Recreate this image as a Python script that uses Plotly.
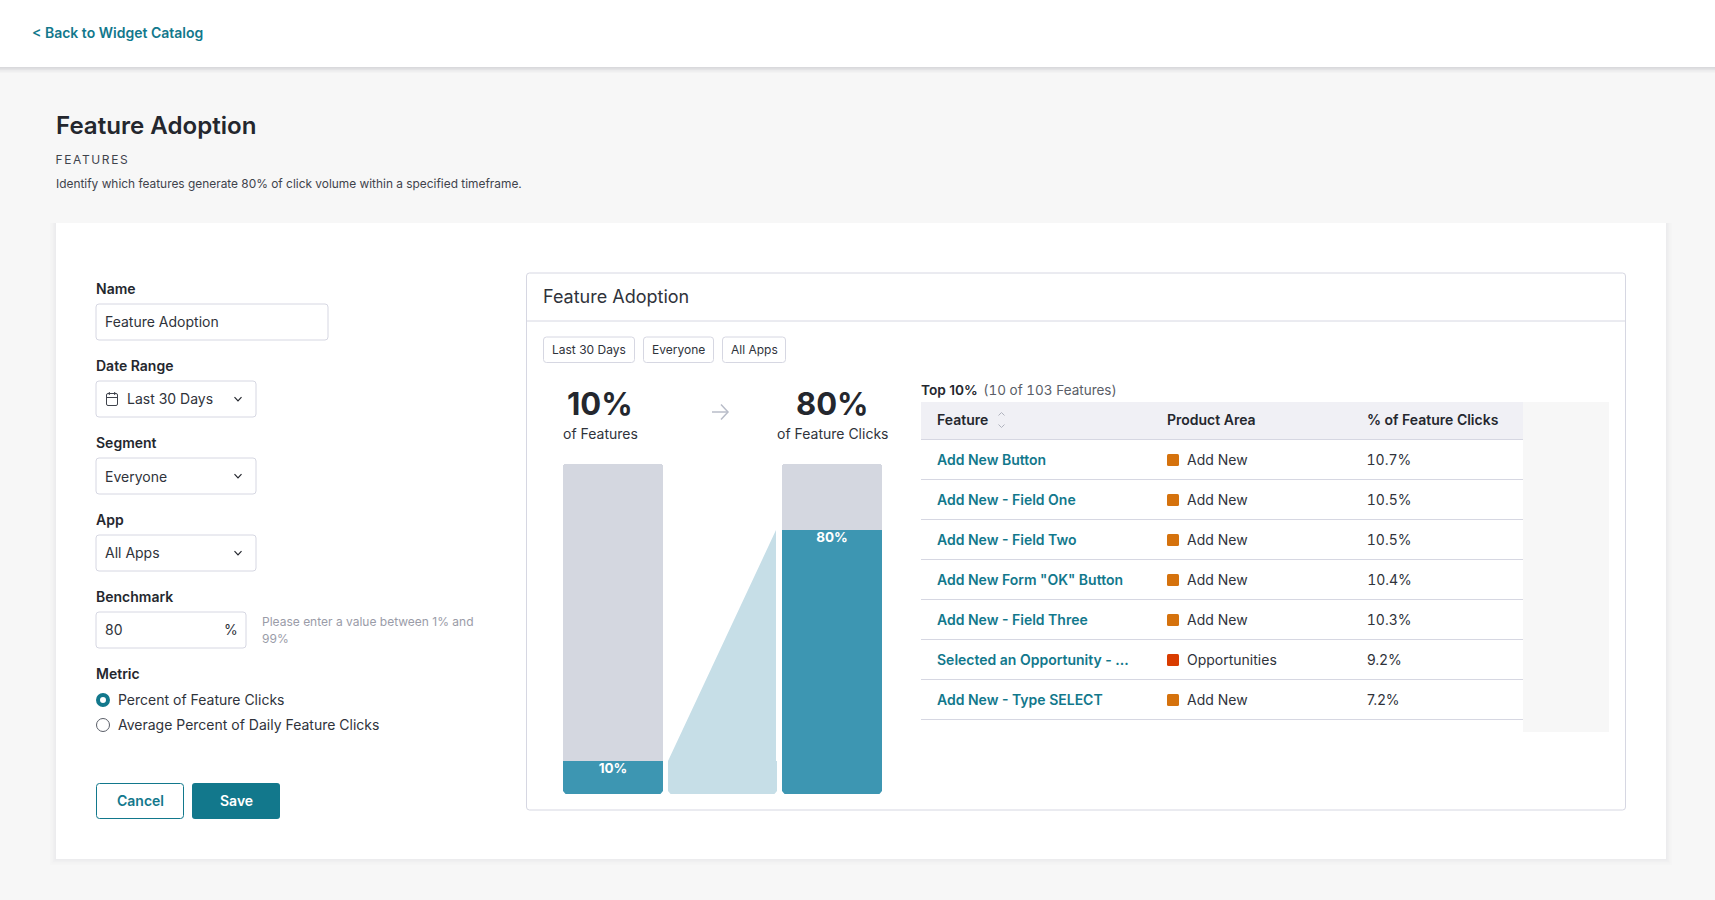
import plotly.graph_objects as go

# ---------- data ----------
bar_categories = ["of Features", "of Feature Clicks"]
adopted_share = [10, 80]
remaining_share = [90, 20]
features = ["Add New Button", "Add New - Field One", "Add New - Field Two",
            'Add New Form "OK" Button', "Add New - Field Three",
            "Selected an Opportunity - ...", "Add New - Type SELECT"]
product_areas = ["Add New", "Add New", "Add New", "Add New", "Add New",
                 "Opportunities", "Add New"]
click_shares = ["10.7%", "10.5%", "10.5%", "10.4%", "10.3%", "9.2%", "7.2%"]
area_colors = {"Add New": "#D5720D", "Opportunities": "#D93C00"}
filter_chips = ["Last 30 Days", "Everyone", "All Apps"]
table_columns = ["Feature", "Product Area", "% of Feature Clicks"]

# ---------- style ----------
W, H = 1715, 900
FONT = "Inter"
DARK, BODY, TEAL = "#24272E", "#2F333B", "#12788C"
BORDER, BAR_TEAL, BAR_GREY, BAR_LIGHT = "#D6D7E2", "#3D96B2", "#D4D7E0", "#C6DEE7"
PAGE = "#F7F7F7"
DY = -0.7


def X(v):
    return v / W


def Y(v):
    return 1 - v / H


shapes, notes = [], []


def rect(x0, y0, x1, y1, fill, line=None, r=0, lw=1):
    if r:
        p = (f"M{X(x0+r)},{Y(y0)} L{X(x1-r)},{Y(y0)} Q{X(x1)},{Y(y0)} {X(x1)},{Y(y0+r)} "
             f"L{X(x1)},{Y(y1-r)} Q{X(x1)},{Y(y1)} {X(x1-r)},{Y(y1)} "
             f"L{X(x0+r)},{Y(y1)} Q{X(x0)},{Y(y1)} {X(x0)},{Y(y1-r)} "
             f"L{X(x0)},{Y(y0+r)} Q{X(x0)},{Y(y0)} {X(x0+r)},{Y(y0)} Z")
        shapes.append(dict(type="path", xref="paper", yref="paper", path=p, fillcolor=fill,
                           line=dict(color=line or "rgba(0,0,0,0)", width=lw if line else 0)))
    else:
        shapes.append(dict(type="rect", xref="paper", yref="paper", x0=X(x0), x1=X(x1), y0=Y(y1), y1=Y(y0),
                           fillcolor=fill, line=dict(color=line or "rgba(0,0,0,0)", width=lw if line else 0)))


def poly(points, color, lw=1.3, fill="rgba(0,0,0,0)", close=False):
    p = "M" + " L".join(f"{X(a)},{Y(b)}" for a, b in points) + (" Z" if close else "")
    shapes.append(dict(type="path", xref="paper", yref="paper", path=p, fillcolor=fill,
                       line=dict(color=color, width=lw)))


def circle(cx, cy, r, fill, line=None, lw=1):
    shapes.append(dict(type="circle", xref="paper", yref="paper", x0=X(cx-r), x1=X(cx+r), y0=Y(cy+r), y1=Y(cy-r),
                       fillcolor=fill, line=dict(color=line or "rgba(0,0,0,0)", width=lw if line else 0)))


def text(x, y, s, size=14, color=BODY, weight=400, anchor="left"):
    notes.append(dict(xref="paper", yref="paper", x=X(x), y=Y(y + DY), text=s, showarrow=False,
                      xanchor=anchor, yanchor="middle", borderpad=0, borderwidth=0,
                      font=dict(family=FONT, size=size, color=color, weight=weight)))


def chevron(cx, cy):
    poly([(cx-3.5, cy-1.8), (cx, cy+1.8), (cx+3.5, cy-1.8)], DARK, 1.2)


# ---------- page chrome ----------
for i, a in enumerate([0.02, 0.03, 0.04, 0.05]):
    d = 6 - i * 1.5
    rect(0, 0, W, 67 + d, f"rgba(30,30,50,{a})")
rect(0, 0, W, 67, "#FFFFFF")
text(32, 33, "&lt; Back to Widget Catalog", 14, TEAL, 600)
text(56, 126.2, "Feature Adoption", 24.1, DARK, 600)
text(62.4, 160, "FEATURES", 12, "#3F434C")
text(56, 184, "Identify which features generate 80% of click volume within a specified timeframe.", 11.9, "#3F434C")

for i, a in enumerate([0.006, 0.009, 0.012, 0.016]):
    d = 6 - i * 1.5
    rect(56 - d, 223, 1666 + d, 859 + d, f"rgba(30,30,50,{a})")
rect(56, 223, 1666, 859, "#FFFFFF")

# ---------- form ----------
text(96, 289, "Name", 14, DARK, 600)
rect(96, 304, 328, 340, "#FFFFFF", BORDER, 3)
text(105, 322, "Feature Adoption", 14, BODY)
text(96, 366, "Date Range", 14, DARK, 600)
rect(96, 381, 256, 417, "#FFFFFF", BORDER, 3)
rect(106.5, 393.5, 117.5, 405.5, "rgba(0,0,0,0)", "#3F434C", 1.5)
poly([(106.5, 397.5), (117.5, 397.5)], "#3F434C", 1)
poly([(109.3, 392), (109.3, 395)], "#3F434C", 1)
poly([(114.7, 392), (114.7, 395)], "#3F434C", 1)
text(127, 399, "Last 30 Days", 14, BODY)
chevron(238, 399)
text(96, 443, "Segment", 14, DARK, 600)
rect(96, 458, 256, 494, "#FFFFFF", BORDER, 3)
text(105, 477, "Everyone", 14, BODY)
chevron(238, 476)
text(96, 520, "App", 14, DARK, 600)
rect(96, 535, 256, 571, "#FFFFFF", BORDER, 3)
text(105, 553, "All Apps", 14, BODY)
chevron(238, 553)
text(96, 597, "Benchmark", 14, DARK, 600)
rect(96, 612, 246, 648, "#FFFFFF", BORDER, 3)
text(105, 630, "80", 14, BODY)
text(231, 630, "%", 14, BODY, anchor="center")
text(262, 622, "Please enter a value between 1% and", 12, "#9A9CA8")
text(262, 638.7, "99%", 12, "#9A9CA8")
text(96, 674, "Metric", 14, DARK, 600)
circle(103, 700, 5, "#FFFFFF", TEAL, 4)
text(118, 700, "Percent of Feature Clicks", 14, BODY)
circle(103, 725, 6.5, "#FFFFFF", "#5A5E68", 1)
text(118, 725, "Average Percent of Daily Feature Clicks", 14, BODY)
rect(96.5, 783.5, 183.5, 818.5, "#FFFFFF", TEAL, 3)
text(140, 801, "Cancel", 14, TEAL, 600, "center")
rect(192, 783, 280, 819, TEAL, None, 3)
text(236, 801, "Save", 14, "#FFFFFF", 600, "center")

# ---------- widget panel ----------
rect(526.5, 273, 1625.5, 810, "#FFFFFF", BORDER, 3)
poly([(526.5, 321), (1625.5, 321)], BORDER, 1)
text(543, 296.7, "Feature Adoption", 18, BODY)
chip_edges = [(543.5, 634.5), (643.5, 713.5), (722.5, 785.5)]
for (a, b), s in zip(chip_edges, filter_chips):
    rect(a, 337, b, 362.5, "#FFFFFF", BORDER, 3)
    text((a + b) / 2, 350.7, s, 12, BODY, anchor="center")

text(600, 403.7, f"{adopted_share[0]}%", 31, DARK, 700, "center")
text(600, 434, bar_categories[0], 14, BODY, anchor="center")
text(832.5, 403.7, f"{adopted_share[1]}%", 31, DARK, 700, "center")
text(832, 434, bar_categories[1], 14, BODY, anchor="center")
poly([(712, 412), (728, 412)], "#B8BCC8", 1.5)
poly([(721, 404.5), (728, 412), (721, 419.5)], "#B8BCC8", 1.5)

# ---------- table ----------
text(921, 390.7, "Top 10%", 13.7, DARK, 600)
text(987, 390.7, "(10 of 103 Features)", 13.5, "#5A5E68")
rect(1523, 402, 1609, 732, PAGE)
rect(921, 402, 1523, 439, "#F0F0F5")
poly([(921, 439.5), (1523, 439.5)], BORDER, 1)
for x, s in zip([936.7, 1167, 1366.5], table_columns):
    text(x, 420, s, 14, DARK, 600)
poly([(998.5, 415.5), (1001.5, 412.5), (1004.5, 415.5)], "#B0B3BE", 1)
poly([(998.5, 424.5), (1001.5, 427.5), (1004.5, 424.5)], "#B0B3BE", 1)
for i, (f, a, c) in enumerate(zip(features, product_areas, click_shares)):
    cy = 460 + 40 * i
    text(936.7, cy, f, 14, TEAL, 600)
    rect(1167, cy - 6, 1179, cy + 6, area_colors[a], None, 1.5)
    text(1186.7, cy, a, 14, BODY)
    text(1368.8 if c.startswith("1") else 1367.3, cy, c, 14, BODY)
    poly([(921, cy + 19.5), (1523, cy + 19.5)], BORDER, 1)

# ---------- funnel chart (real axes, values drawn through the scales) ----------
PLOT_L, PLOT_R, PLOT_T, PLOT_B = 563, 882, 464, 794
BAR_PX, UNIT_PX = 100, 219
bar_w = BAR_PX / UNIT_PX
half = bar_w / 2
conn_left = half + 5 / UNIT_PX
conn_right = 1 - half - 6 / UNIT_PX
conn_foot = 1 - half - 5 / UNIT_PX
LABEL_DROP = 0.7  # value-axis units between a bar's top and its label anchor

fig = go.Figure()
fig.add_trace(go.Bar(x=[0, 1], y=adopted_share, width=bar_w, marker=dict(color=BAR_TEAL, line=dict(width=0))))
fig.add_trace(go.Bar(x=[0, 1], y=remaining_share, width=bar_w, marker=dict(color=BAR_GREY, line=dict(width=0))))
fig.add_trace(go.Scatter(
    x=[conn_left, conn_foot, conn_foot, conn_right, conn_right, conn_left],
    y=[0, 0, adopted_share[0], adopted_share[0], adopted_share[1], adopted_share[0]],
    mode="lines", fill="toself", fillcolor=BAR_LIGHT, line=dict(width=0), hoverinfo="skip"))
fig.add_trace(go.Scatter(x=[0, 1], y=[v - LABEL_DROP for v in adopted_share], mode="text",
                         text=[f"{v}%" for v in adopted_share],
                         textposition="bottom center", cliponaxis=False, hoverinfo="skip",
                         textfont=dict(family=FONT, size=13.5, color="#FFFFFF", weight=700)))

# small rounded feet of the bars
for left, right in [(563, 663), (668, 777), (782, 882)]:
    r = 3
    poly([(left, PLOT_B + .5), (left + r, PLOT_B + .5), (left, PLOT_B - r)], "rgba(0,0,0,0)", 0, "#FFFFFF", True)
    poly([(right, PLOT_B + .5), (right - r, PLOT_B + .5), (right, PLOT_B - r)], "rgba(0,0,0,0)", 0, "#FFFFFF", True)

fig.update_layout(
    width=W, height=H, autosize=False, showlegend=False,
    margin=dict(l=0, r=0, t=0, b=0, pad=0),
    paper_bgcolor=PAGE, plot_bgcolor="rgba(0,0,0,0)",
    barmode="stack", barcornerradius=3, bargap=0,
    font=dict(family=FONT),
    xaxis=dict(domain=[X(PLOT_L), X(PLOT_R)], range=[-half, 1 + half], visible=False, fixedrange=True),
    yaxis=dict(domain=[Y(PLOT_B), Y(PLOT_T)], range=[0, 100], visible=False, fixedrange=True),
    shapes=shapes, annotations=notes,
)
# chrome goes under the chart, only the corner masks stay on top
n_masks = 6
for s in fig.layout.shapes[:-n_masks]:
    s.layer = "below"

post = """
document.documentElement.style.overflow='hidden';
document.body.style.margin='0';
document.querySelectorAll('.annotation-text').forEach(function(t){
  if(t.textContent==='FEATURES'){t.style.letterSpacing='1.6px';}
  if(/^1[0-9.]+%$/.test(t.textContent) && t.textContent.indexOf('.')>0){t.style.fontFeatureSettings='"tnum"';}
  if(t.textContent.indexOf('of 103')>0){t.style.fontFeatureSettings='"tnum"';}
});
"""
fig.write_html("out.html", post_script=post, config=dict(displayModeBar=False))
